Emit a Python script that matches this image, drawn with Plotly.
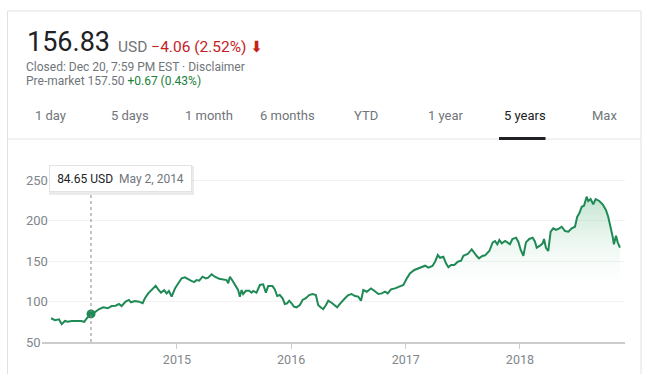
import plotly.graph_objects as go
from datetime import datetime, timedelta

# ---------------- data ----------------
years = [
    2013.898, 2013.933, 2013.968, 2013.991, 2014.020, 2014.044, 2014.079, 2014.122, 2014.160, 2014.189,
    2014.210, 2014.248, 2014.283, 2014.320, 2014.355, 2014.394, 2014.429, 2014.464, 2014.493, 2014.516,
    2014.551, 2014.580, 2014.598, 2014.633, 2014.668, 2014.700, 2014.720, 2014.749, 2014.779, 2014.814,
    2014.836, 2014.860, 2014.889, 2014.910, 2014.930, 2014.954, 2014.983, 2015.011, 2015.041, 2015.070,
    2015.099, 2015.122, 2015.151, 2015.172, 2015.195, 2015.225, 2015.254, 2015.274, 2015.304, 2015.332,
    2015.370, 2015.405, 2015.435, 2015.449, 2015.464, 2015.487, 2015.507, 2015.522, 2015.536, 2015.551,
    2015.566, 2015.580, 2015.604, 2015.633, 2015.654, 2015.668, 2015.697, 2015.726, 2015.755, 2015.779,
    2015.799, 2015.837, 2015.857, 2015.878, 2015.901, 2015.925, 2015.945, 2015.965, 2015.983, 2016.004,
    2016.024, 2016.047, 2016.076, 2016.100, 2016.129, 2016.157, 2016.187, 2016.216, 2016.236, 2016.257,
    2016.280, 2016.304, 2016.324, 2016.353, 2016.382, 2016.402, 2016.426, 2016.441, 2016.470, 2016.499,
    2016.528, 2016.557, 2016.586, 2016.610, 2016.630, 2016.660, 2016.697, 2016.726, 2016.761, 2016.791,
    2016.820, 2016.843, 2016.872, 2016.907, 2016.942, 2016.980, 2017.010, 2017.039, 2017.076, 2017.117,
    2017.146, 2017.170, 2017.199, 2017.234, 2017.257, 2017.281, 2017.301, 2017.330, 2017.353, 2017.374,
    2017.397, 2017.426, 2017.456, 2017.485, 2017.505, 2017.543, 2017.578, 2017.601, 2017.622, 2017.642,
    2017.671, 2017.695, 2017.732, 2017.762, 2017.782, 2017.802, 2017.820, 2017.841, 2017.870, 2017.890,
    2017.913, 2017.934, 2017.966, 2017.986, 2018.007, 2018.030, 2018.053, 2018.082, 2018.112, 2018.132,
    2018.147, 2018.176, 2018.199, 2018.211, 2018.228, 2018.248, 2018.269, 2018.292, 2018.316, 2018.345,
    2018.366, 2018.395, 2018.424, 2018.453, 2018.482, 2018.502, 2018.520, 2018.541, 2018.561, 2018.584,
    2018.598, 2018.619, 2018.642, 2018.663, 2018.695, 2018.724, 2018.753, 2018.773, 2018.794, 2018.812,
    2018.823, 2018.841, 2018.856, 2018.876,
]
prices = [
    79.3, 77.0, 78.0, 72.0, 76.0, 75.0, 76.0, 76.0, 76.0, 75.0,
    79.0, 84.65, 87.0, 90.7, 92.8, 91.6, 94.4, 94.8, 97.0, 94.4,
    99.8, 101.9, 99.0, 100.6, 99.8, 97.8, 104.0, 110.0, 114.0, 119.5,
    115.0, 110.9, 114.0, 110.0, 113.0, 106.0, 116.0, 122.5, 128.6, 129.8,
    127.0, 125.7, 124.0, 126.5, 125.7, 130.6, 128.6, 129.4, 133.6, 130.6,
    128.0, 127.4, 126.5, 122.5, 130.6, 125.7, 120.4, 116.0, 114.2, 106.0,
    114.2, 109.3, 113.3, 113.3, 110.9, 113.0, 110.9, 120.4, 121.2, 110.9,
    119.0, 119.0, 115.0, 106.8, 108.0, 104.0, 97.0, 97.8, 101.0, 97.8,
    93.6, 92.8, 95.7, 101.9, 104.0, 108.0, 109.3, 108.0, 95.7, 92.8,
    90.7, 95.7, 101.0, 98.5, 95.7, 92.8, 97.0, 99.8, 104.0, 108.0,
    109.3, 106.8, 106.0, 101.0, 114.2, 112.1, 116.2, 113.3, 109.3, 110.0,
    112.1, 110.0, 115.0, 116.2, 118.2, 120.4, 128.6, 134.8, 138.9, 141.0,
    142.2, 144.2, 141.8, 143.8, 149.1, 157.4, 154.0, 155.3, 147.1, 142.2,
    145.0, 145.0, 149.1, 150.4, 156.5, 158.6, 164.4, 159.4, 156.2, 153.3,
    156.2, 157.0, 162.3, 173.0, 174.7, 170.6, 175.9, 171.8, 174.7, 173.0,
    170.6, 177.2, 178.8, 173.8, 163.6, 156.5, 173.0, 177.2, 178.8, 173.8,
    166.4, 168.9, 171.8, 177.2, 166.4, 162.3, 186.2, 190.3, 188.3, 190.3,
    192.3, 187.0, 186.2, 190.3, 192.3, 204.7, 208.8, 217.0, 218.3, 229.4,
    224.1, 226.5, 220.0, 226.5, 224.1, 220.0, 213.0, 204.7, 192.3, 180.0,
    170.6, 181.3, 173.0, 166.4,
]
hover_year = 2014.248
hover_price = 84.65
hover_label = "May 2, 2014"
x_tick_years = [2015, 2016, 2017, 2018]
y_tick_values = [50, 100, 150, 200, 250]
tab_labels = ["1 day", "5 days", "1 month", "6 months", "YTD", "1 year", "5 years", "Max"]
selected_tab = "5 years"

price_now = "156.83"
currency = "USD"
change_text = "\u22124.06 (2.52%)"
closed_text = "Closed: Dec 20, 7:59 PM EST \u00b7 Disclaimer"
premarket_text = "Pre-market 157.50"
premarket_change = "+0.67 (0.43%)"


def to_date(y):
    yr = int(y)
    start = datetime(yr, 1, 1)
    ndays = (datetime(yr + 1, 1, 1) - start).days
    return start + timedelta(days=(y - yr) * ndays)


dates = [to_date(v) for v in years]
hover_date = to_date(hover_year)

# ---------------- layout geometry ----------------
W, H = 654, 374
L, R, T, B = 42, 29, 176, 32
PW, PH = W - L - R, H - T - B
FONT = "Roboto, Arial, sans-serif"
GREEN = "#1f8a55"
GREY = "#70757a"
RED = "#c5221f"


def px(x):
    return (x - L) / PW


def py(y):
    return (H - B - y) / PH


fig = go.Figure()
fig.add_trace(go.Scatter(
    x=dates, y=prices, mode="lines",
    line=dict(color=GREEN, width=2),
    fill="tozeroy",
    fillgradient=dict(type="vertical", start=105, stop=232,
                      colorscale=[[0, "rgba(255,255,255,0)"], [1, "rgba(40,160,90,0.30)"]]),
    hoverinfo="skip", showlegend=False,
))
fig.add_trace(go.Scatter(
    x=[hover_date], y=[hover_price], mode="markers",
    marker=dict(color=GREEN, size=9), hoverinfo="skip", showlegend=False,
))

shapes = [
    # card border
    dict(type="rect", xref="paper", yref="paper", x0=px(7.5), x1=px(641), y0=py(11), y1=py(390),
         line=dict(color="#dfe1e5", width=1), fillcolor="rgba(0,0,0,0)", layer="below"),
    # divider below tabs
    dict(type="line", xref="paper", yref="paper", x0=px(7.5), x1=px(641), y0=py(139), y1=py(139),
         line=dict(color="#e4e4e4", width=1)),
    # selected tab underline
    dict(type="rect", xref="paper", yref="paper", x0=px(499), x1=px(545.5), y0=py(137), y1=py(140),
         line=dict(width=0), fillcolor="#202124"),
    # hover dotted line
    dict(type="line", xref="x", yref="y", x0=hover_date, x1=hover_date, y0=50, y1=234,
         line=dict(color="#888", width=1, dash="dot")),
    # tooltip shadow
    dict(type="rect", xref="paper", yref="paper", x0=px(49), x1=px(194), y0=py(166), y1=py(195),
         line=dict(width=0), fillcolor="rgba(0,0,0,0.08)"),
]

ann = []
ann.append(dict(text=price_now, x=px(24.5), y=py(41.5), xref="paper", yref="paper",
                xanchor="left", yanchor="middle", showarrow=False,
                font=dict(family=FONT, size=27, color="#202124")))
ann.append(dict(text=(f"{currency} <span style='color:{RED}'>{change_text}</span> "
                      f"<span style='color:{RED};font-family:DejaVu Sans'>\u2b07</span>"),
                x=px(116), y=py(46.5), xref="paper", yref="paper",
                xanchor="left", yanchor="middle", showarrow=False,
                font=dict(family=FONT, size=15.5, color=GREY)))
ann.append(dict(text=closed_text, x=px(25), y=py(66.5), xref="paper", yref="paper",
                xanchor="left", yanchor="middle", showarrow=False, borderpad=0,
                font=dict(family=FONT, size=12, color=GREY)))
ann.append(dict(text=f"{premarket_text} <span style='color:#188038'>{premarket_change}</span>",
                x=px(25), y=py(81), xref="paper", yref="paper",
                xanchor="left", yanchor="middle", showarrow=False, borderpad=0,
                font=dict(family=FONT, size=12, color=GREY)))

tab_x = [33, 109, 183, 258, 352, 426, 502, 590]
for lab, tx in zip(tab_labels, tab_x):
    ann.append(dict(text=lab, x=px(tx), y=py(115.5), xref="paper", yref="paper",
                    xanchor="left", yanchor="middle", showarrow=False,
                    font=dict(family=FONT, size=13,
                              color="#202124" if lab == selected_tab else GREY)))

for v in y_tick_values:
    ann.append(dict(text=str(v), x=px(24), y=v, xref="paper", yref="y",
                    xanchor="left", yanchor="middle", showarrow=False,
                    font=dict(family=FONT, size=13, color="#80868b")))

ann.append(dict(text=f"{hover_price:.2f} USD&nbsp;&nbsp;<span style='color:{GREY}'>{hover_label}</span>",
                x=px(120.5), y=py(178.5), xref="paper", yref="paper",
                xanchor="center", yanchor="middle", showarrow=False,
                width=141, height=25, align="center",
                bgcolor="white", bordercolor="#e3e3e3", borderwidth=1, borderpad=0,
                font=dict(family=FONT, size=12, color="#202124")))

x_lo, x_hi = to_date(2013.819), to_date(2018.920)
fig.update_layout(
    width=W, height=H,
    margin=dict(l=L, r=R, t=T, b=B, pad=0, autoexpand=False),
    paper_bgcolor="white", plot_bgcolor="white",
    font=dict(family=FONT),
    shapes=shapes, annotations=ann,
    xaxis=dict(type="date", range=[x_lo, x_hi], automargin=False,
               tickvals=[datetime(y, 1, 1) for y in x_tick_years],
               ticktext=[str(y) for y in x_tick_years],
               showgrid=False, zeroline=False,
               showline=True, linecolor="#cccccc", linewidth=2,
               ticks="outside", ticklen=5, tickcolor="#cccccc", tickwidth=1,
               tickfont=dict(family=FONT, size=12.5, color="#80868b"),
               fixedrange=True),
    yaxis=dict(range=[50, 50 + PH / 0.81], automargin=False,
               tickvals=y_tick_values[1:], showticklabels=False,
               showgrid=True, gridcolor="#f2f2f2", gridwidth=1,
               zeroline=False, showline=False, ticks="",
               fixedrange=True),
)

fig.write_html("out.html", config={"displayModeBar": False},
               post_script="document.body.style.margin='0';")
